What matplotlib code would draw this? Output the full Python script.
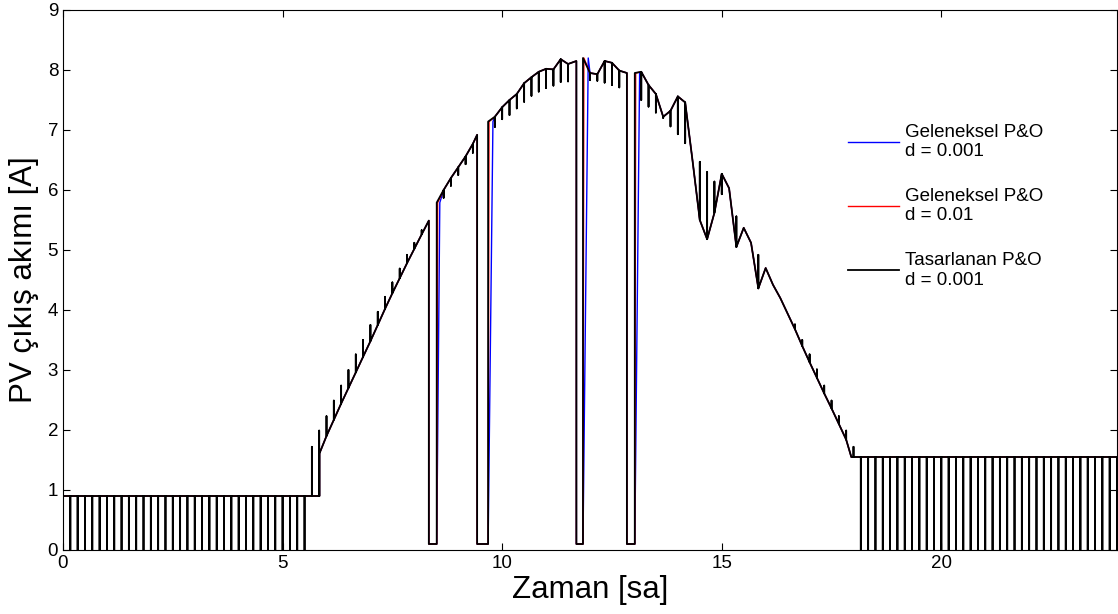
import numpy as np
import matplotlib
matplotlib.use("Agg")
import matplotlib.pyplot as plt

plt.rcParams['font.family'] = ['Liberation Sans', 'DejaVu Sans']

# ortak egri (zaman [sa], akim [A]), kopmalar dahil
t_knot = [0, 0, 5.84, 5.84, 6.0, 6.167, 6.333, 6.5, 6.667, 6.833, 7.0, 7.167, 7.333, 7.5,
          7.667, 7.833, 8.0, 8.167, 8.33, 8.33, 8.51, 8.51, 8.667, 8.833, 9.0, 9.167, 9.333,
          9.43, 9.43, 9.68, 9.68, 9.833, 10.0, 10.167, 10.333, 10.5, 10.667, 10.833, 11.0,
          11.167, 11.333, 11.5, 11.69, 11.69, 11.84, 11.84, 12.0, 12.167, 12.333, 12.5,
          12.667, 12.84, 12.84, 13.02, 13.02, 13.167, 13.333, 13.5, 13.667, 13.833, 14.0,
          14.167, 14.333, 14.5, 14.667, 14.833, 15.0, 15.167, 15.333, 15.5, 15.667, 15.833,
          16.0, 16.167, 16.333, 16.5, 16.667, 16.833, 17.0, 17.167, 17.333, 17.5, 17.667,
          17.833, 17.95, 24]
i_knot = [0, 0.9, 0.9, 1.61, 1.90, 2.17, 2.44, 2.70, 2.96, 3.22, 3.48, 3.75, 4.02, 4.28,
          4.53, 4.78, 5.02, 5.26, 5.49, 0.1, 0.1, 5.79, 6.00, 6.20, 6.38, 6.56, 6.77,
          6.92, 0.1, 0.1, 7.14, 7.22, 7.38, 7.50, 7.60, 7.78, 7.88, 7.97, 8.02,
          8.01, 8.18, 8.10, 8.15, 0.1, 0.1, 8.20, 7.95, 7.93, 8.15, 8.12,
          7.99, 7.95, 0.1, 0.1, 7.95, 7.97, 7.75, 7.60, 7.22, 7.32, 7.56,
          7.46, 6.50, 5.50, 5.18, 5.62, 6.27, 6.03, 5.05, 5.37, 5.12, 4.36,
          4.70, 4.42, 4.20, 3.94, 3.68, 3.40, 3.13, 2.87, 2.61, 2.36, 2.10,
          1.84, 1.55, 1.55]

# kopmalardan sonra egriye donus zamanlari
drop_end = [8.51, 9.68, 11.84, 13.02]
blue_back = [8.58, 9.79, 11.96, 13.13]
red_back = [8.53, 9.70, 11.86, 13.04]

# tasarlanan P&O: her adimdaki sicrama uclari
spike_t_day = [5.667, 5.833, 6.0, 6.167, 6.333, 6.5, 6.667, 6.833, 7.0, 7.167, 7.333, 7.5,
               7.667, 7.833, 8.0, 8.167,
               8.667, 8.833, 9.0, 9.167, 9.333,
               9.833, 10.0, 10.167, 10.333, 10.5, 10.667, 10.833, 11.0, 11.167, 11.333, 11.5,
               12.0, 12.167, 12.333, 12.5, 12.667,
               13.167, 13.333, 13.5, 13.667, 13.833, 14.0, 14.167, 14.5, 14.667, 14.833,
               15.0, 15.333, 15.833,
               16.667, 16.833, 17.0, 17.167, 17.333, 17.5, 17.667, 17.833, 18.0]
spike_v_day = [1.72, 1.99, 2.23, 2.49, 2.74, 3.0, 3.26, 3.5, 3.75, 3.97, 4.22, 4.46,
               4.69, 4.92, 5.12, 5.33,
               5.87, 6.07, 6.25, 6.43, 6.62,
               7.05, 7.18, 7.25, 7.36, 7.47, 7.57, 7.64, 7.70, 7.74, 7.80, 7.81,
               7.83, 7.82, 7.79, 7.75, 7.71,
               7.50, 7.39, 7.29, 7.20, 7.06, 6.93, 6.78, 6.47, 6.30, 6.14,
               5.93, 5.56, 4.92,
               3.76, 3.50, 3.26, 3.01, 2.74, 2.49, 2.23, 1.99, 1.72]
# gece: 10 dakikada bir sifira inen sicramalar
spike_t_night = list(np.arange(1, 34) / 6) + list(np.arange(109, 145) / 6)
spike_v_night = [0.0] * len(spike_t_night)

labels = ['Geleneksel P&O\nd = 0.001', 'Geleneksel P&O\nd = 0.01', 'Tasarlanan P&O\nd = 0.001']


def lagged(times, backs):
    tt = list(times)
    for de, bb in zip(drop_end, backs):
        for j in range(len(tt)):
            if tt[j] == de and i_knot[j] > 1:
                tt[j] = bb
    return tt


t_blue = lagged(t_knot, blue_back)
t_red = lagged(t_knot, red_back)

# siyah egri: ortak egri + sicramalar
pts = list(zip(t_knot, i_knot))
for ts, tip in zip(spike_t_night + spike_t_day, spike_v_night + spike_v_day):
    b = float(np.interp(ts, t_knot, i_knot))
    pts += [(ts, b), (ts, tip), (ts, b)]
pts = sorted(pts, key=lambda p: p[0])
t_black, i_black = zip(*pts)

fig = plt.figure(figsize=(11.18, 6.14), dpi=100)
ax = fig.add_axes([63 / 1118, 64 / 614, 1054 / 1118, 540 / 614])

ax.plot(t_blue, i_knot, color='blue', lw=1.0, label=labels[0])
ax.plot(t_red, i_knot, color='red', lw=1.0, label=labels[1])
ax.plot(t_black, i_black, color='black', lw=1.3, label=labels[2])

ax.set_xlim(0, 24)
ax.set_ylim(0, 9)
ax.set_xticks([0, 5, 10, 15, 20])
ax.set_yticks(range(10))
ax.tick_params(direction='in', top=True, right=True, length=5, labelsize=13.5)
ax.set_xlabel('Zaman [sa]', fontsize=22.5, labelpad=2)
ax.set_ylabel('PV çıkış akımı [A]', fontsize=22.5, labelpad=6)

ax.legend(loc='upper left', bbox_to_anchor=(0.729, 0.821), frameon=False, fontsize=13.5,
          handlelength=2.7, handletextpad=0.35, labelspacing=1.48)

fig.savefig('out.png', dpi=100)
